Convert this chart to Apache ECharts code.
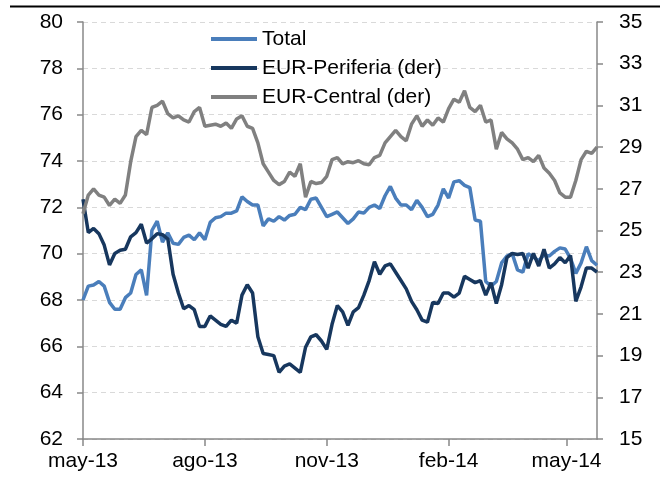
<!DOCTYPE html>
<html>
<head>
<meta charset="utf-8">
<script src="https://cdn.jsdelivr.net/npm/echarts@6/dist/echarts.min.js"></script>
<style>
  html, body { margin: 0; padding: 0; background: #fff; }
  #chart { width: 660px; height: 479px; }
</style>
</head>
<body>
<div id="chart"></div>
<script>
// fechas (cada 4 dias)
var dates = [
  '2013-05-01','2013-05-05','2013-05-09','2013-05-13','2013-05-17','2013-05-21','2013-05-25','2013-05-29',
  '2013-06-02','2013-06-06','2013-06-10','2013-06-14','2013-06-18','2013-06-22','2013-06-26','2013-06-30',
  '2013-07-04','2013-07-08','2013-07-12','2013-07-16','2013-07-20','2013-07-24','2013-07-28','2013-08-01',
  '2013-08-05','2013-08-09','2013-08-13','2013-08-17','2013-08-21','2013-08-25','2013-08-29','2013-09-02',
  '2013-09-06','2013-09-10','2013-09-14','2013-09-18','2013-09-22','2013-09-26','2013-09-30','2013-10-04',
  '2013-10-08','2013-10-12','2013-10-16','2013-10-20','2013-10-24','2013-10-28','2013-11-01','2013-11-05',
  '2013-11-09','2013-11-13','2013-11-17','2013-11-21','2013-11-25','2013-11-29','2013-12-03','2013-12-07',
  '2013-12-11','2013-12-15','2013-12-19','2013-12-23','2013-12-27','2013-12-31','2014-01-04','2014-01-08',
  '2014-01-12','2014-01-16','2014-01-20','2014-01-24','2014-01-28','2014-02-01','2014-02-05','2014-02-09',
  '2014-02-13','2014-02-17','2014-02-21','2014-02-25','2014-03-01','2014-03-05','2014-03-09','2014-03-13',
  '2014-03-17','2014-03-21','2014-03-25','2014-03-29','2014-04-02','2014-04-06','2014-04-10','2014-04-14',
  '2014-04-18','2014-04-22','2014-04-26','2014-04-30','2014-05-04','2014-05-08','2014-05-12','2014-05-16',
  '2014-05-20','2014-05-24'
];

// Total (eje izq.)
var total = [
  68.0, 68.6, 68.65, 68.8, 68.6, 67.9, 67.6, 67.6, 68.1, 68.3, 69.1, 69.3, 68.2, 71.0, 71.4, 70.5,
  70.9, 70.45, 70.4, 70.7, 70.8, 70.6, 70.9, 70.6, 71.35, 71.55, 71.6, 71.75, 71.75, 71.85, 72.45, 72.25,
  72.1, 72.1, 71.2, 71.5, 71.4, 71.6, 71.45, 71.65, 71.7, 72.0, 71.9, 72.35, 72.4, 72.0, 71.6, 71.7,
  71.8, 71.55, 71.3, 71.5, 71.8, 71.75, 72.0, 72.1, 71.95, 72.5, 72.9, 72.4, 72.1, 72.1, 71.9, 72.3,
  72.0, 71.6, 71.7, 72.1, 72.8, 72.4, 73.1, 73.15, 72.95, 72.85, 71.45, 71.4, 68.8, 68.6, 68.8, 69.6,
  69.9, 70.0, 69.3, 69.2, 70.0, 69.85, 69.7, 69.95, 69.9, 70.1, 70.25, 70.2, 69.8, 69.15, 69.6, 70.3,
  69.7, 69.5
];

// EUR-Periferia (eje der.)
var periferia = [
  26.5, 24.9, 25.1, 24.85, 24.3, 23.35, 23.9, 24.05, 24.1, 24.7, 24.9, 25.3, 24.4, 24.6, 24.85, 24.8,
  24.6, 22.9, 22.0, 21.25, 21.4, 21.2, 20.4, 20.4, 20.9, 20.7, 20.5, 20.4, 20.7, 20.55, 21.9, 22.4,
  22.0, 19.9, 19.1, 19.05, 19.0, 18.2, 18.5, 18.6, 18.4, 18.2, 19.4, 19.9, 20.0, 19.7, 19.3, 20.5,
  21.4, 21.1, 20.45, 21.1, 21.3, 21.9, 22.6, 23.5, 22.9, 23.3, 23.4, 23.0, 22.6, 22.2, 21.6, 21.2,
  20.7, 20.6, 21.55, 21.5, 22.0, 22.0, 21.8, 22.0, 22.8, 22.65, 22.5, 22.6, 21.9, 22.5, 21.5, 22.4,
  23.7, 23.9, 23.85, 23.9, 23.2, 23.9, 23.3, 24.1, 23.2, 23.4, 23.7, 23.45, 23.8, 21.6, 22.3, 23.2,
  23.2, 23.0
];

// EUR-Central (eje der.)
var central = [
  25.8, 26.7, 27.0, 26.7, 26.6, 26.2, 26.5, 26.3, 26.7, 28.3, 29.5, 29.8, 29.6, 30.9, 31.0, 31.2,
  30.6, 30.4, 30.5, 30.3, 30.2, 30.7, 30.9, 30.0, 30.05, 30.1, 30.0, 30.15, 29.9, 30.35, 30.5, 30.0,
  29.9, 29.2, 28.2, 27.8, 27.4, 27.2, 27.35, 27.8, 27.6, 28.2, 26.6, 27.35, 27.25, 27.3, 27.6, 28.4,
  28.5, 28.2, 28.3, 28.25, 28.35, 28.2, 28.15, 28.5, 28.6, 29.2, 29.5, 29.8, 29.5, 29.3, 30.1, 30.5,
  30.0, 30.3, 30.05, 30.4, 30.2, 30.85, 31.3, 31.15, 31.7, 30.9, 30.7, 31.0, 30.2, 30.3, 28.9, 29.7,
  29.4, 29.2, 28.9, 28.4, 28.5, 28.3, 28.6, 28.0, 27.75, 27.4, 26.8, 26.6, 26.6, 27.4, 28.4, 28.8,
  28.7, 29.0
];

// marcas del eje x
var xTickDates = ['2013-05-01', '2013-08-01', '2013-11-01', '2014-02-01', '2014-05-01'];
var xTickLabels = ['may-13', 'ago-13', 'nov-13', 'feb-14', 'may-14'];

function toTime(s) {
  var p = s.split('-');
  return Date.UTC(+p[0], +p[1] - 1, +p[2]);
}
function pairs(vals) {
  return vals.map(function (v, i) { return [toTime(dates[i]), v]; });
}

var tickTimes = xTickDates.map(toTime);
var axisColor = '#888888';
var font = 'Liberation Sans, Arial, sans-serif';

var chart = echarts.init(document.getElementById('chart'));
var option = {
  animation: false,
  grid: { left: 83, right: 63, top: 22, bottom: 40 },
  legend: {
    orient: 'vertical',
    left: 206,
    top: 23,
    icon: 'rect',
    itemWidth: 46,
    itemHeight: 4,
    itemGap: 7,
    textStyle: { fontFamily: font, fontSize: 21, color: '#000', lineHeight: 22 },
    data: ['Total', 'EUR-Periferia (der)', 'EUR-Central (der)']
  },
  graphic: [
    { type: 'rect', shape: { x: 10, y: 5.5, width: 650, height: 2 }, style: { fill: '#000' } }
  ],
  xAxis: {
    type: 'value',
    min: toTime(dates[0]),
    max: toTime(dates[dates.length - 1]),
    axisLine: { lineStyle: { color: axisColor, width: 1.5 } },
    axisTick: { show: true, length: 7, customValues: tickTimes, lineStyle: { color: axisColor, width: 1.5 } },
    splitLine: { show: false },
    axisLabel: {
      customValues: tickTimes,
      margin: 12,
      fontFamily: font,
      fontSize: 21,
      color: '#000',
      formatter: function (val) {
        var i = tickTimes.indexOf(val);
        return i >= 0 ? xTickLabels[i] : '';
      }
    }
  },
  yAxis: [
    {
      type: 'value',
      min: 62, max: 80, interval: 2,
      axisLine: { show: true, lineStyle: { color: axisColor, width: 1.5 } },
      axisTick: { show: true, length: 6, lineStyle: { color: axisColor, width: 1.5 } },
      splitLine: { show: true, lineStyle: { color: '#d9d9d9', type: [5, 4], width: 1.2 } },
      axisLabel: { margin: 20, fontFamily: font, fontSize: 21, color: '#000' }
    },
    {
      type: 'value',
      min: 15, max: 35, interval: 2,
      axisLine: { show: true, lineStyle: { color: axisColor, width: 1.5 } },
      axisTick: { show: true, length: 6, lineStyle: { color: axisColor, width: 1.5 } },
      splitLine: { show: false },
      axisLabel: { margin: 22, fontFamily: font, fontSize: 21, color: '#000' }
    }
  ],
  series: [
    {
      name: 'Total', type: 'line', yAxisIndex: 0, data: pairs(total),
      showSymbol: false, lineStyle: { width: 3.5, color: '#4a7ebb' }, itemStyle: { color: '#4a7ebb' }
    },
    {
      name: 'EUR-Periferia (der)', type: 'line', yAxisIndex: 1, data: pairs(periferia),
      showSymbol: false, lineStyle: { width: 3.5, color: '#17375e' }, itemStyle: { color: '#17375e' }
    },
    {
      name: 'EUR-Central (der)', type: 'line', yAxisIndex: 1, data: pairs(central),
      showSymbol: false, lineStyle: { width: 3.5, color: '#808080' }, itemStyle: { color: '#808080' }
    }
  ]
};
chart.setOption(option);
</script>
</body>
</html>
